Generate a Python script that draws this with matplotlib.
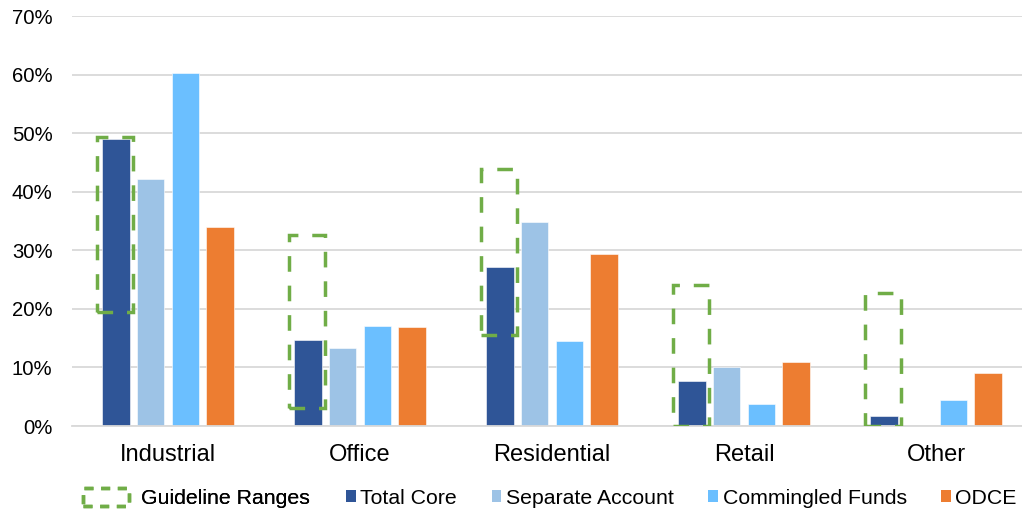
import matplotlib
matplotlib.use("Agg")
import matplotlib.pyplot as plt
from matplotlib.patches import Patch
import numpy as np

plt.rcParams['font.family'] = ['Liberation Sans', 'DejaVu Sans']

# Property-type allocation (%), by portfolio
categories = ["Industrial", "Office", "Residential", "Retail", "Other"]
series_names = ["Total Core", "Separate Account", "Commingled Funds", "ODCE"]
total_core = [49.0, 14.7, 27.1, 7.6, 1.7]
separate_account = [42.1, 13.3, 34.8, 10.0, 0.0]
commingled_funds = [60.3, 17.0, 14.5, 3.7, 4.4]
odce = [33.9, 16.9, 29.3, 10.9, 9.0]

# Guideline ranges for the Total Core portfolio (%)
guideline_low = [19.5, 3.0, 15.5, 0.0, 0.0]
guideline_high = [49.4, 32.6, 43.9, 24.1, 22.7]
y_ticks = [0, 10, 20, 30, 40, 50, 60, 70]

colors = ["#2F5597", "#9DC3E6", "#6BBFFF", "#ED7D31"]
green = "#70AD47"
grid_color = "#D9D9D9"

fig = plt.figure(figsize=(10.22, 5.12), dpi=100)
ax = fig.add_axes([72 / 1022, 86 / 512, 960 / 1022, 410 / 512])

x = np.arange(len(categories))
bar_w = 0.143
pitch = 0.181
all_series = [total_core, separate_account, commingled_funds, odce]
for i, (vals, col, name) in enumerate(zip(all_series, colors, series_names)):
    ax.bar(x + (i - 1.5) * pitch, vals, width=bar_w, color=col,
           edgecolor="white", linewidth=0.4, zorder=2, label=name)

# Dashed guideline boxes around the Total Core bars
dash = (0, (4.5, 4))
heights = [h - l for l, h in zip(guideline_low, guideline_high)]
ax.bar(x - 1.5 * pitch - 0.006, heights, bottom=guideline_low, width=0.188,
       fill=False, edgecolor=green, linewidth=2.5, linestyle=dash, zorder=3)

ax.set_xlim(-0.5, 4.5)
ax.set_ylim(0, 70)
ax.set_yticks(y_ticks)
ax.set_yticklabels([f"{t}%" for t in y_ticks])
ax.set_xticks(x)
ax.set_xticklabels(categories)
ax.tick_params(axis="y", length=0, pad=14, labelsize=14.6, labelcolor="black")
ax.tick_params(axis="x", length=0, pad=13, labelsize=17, labelcolor="black")
ax.yaxis.grid(True, color=grid_color, linewidth=1.3, zorder=0)
ax.set_axisbelow(True)
for s in ["left", "right", "top"]:
    ax.spines[s].set_visible(False)
ax.spines["bottom"].set_color(grid_color)
ax.spines["bottom"].set_linewidth(1.3)

fs = 15.35
guide_handle = Patch(facecolor="none", edgecolor=green, linewidth=2.5,
                     linestyle=(0, (2.6, 2.2)))
leg1 = fig.legend([guide_handle], ["Guideline Ranges"], loc="center left",
                  bbox_to_anchor=(83 / 1022, 14 / 512), frameon=False,
                  fontsize=fs, handlelength=2.15, handleheight=0.9,
                  handletextpad=0.55, borderpad=0, borderaxespad=0)
fig.add_artist(leg1)

series_handles = [Patch(facecolor=c, edgecolor="none") for c in colors]
fig.legend(series_handles, series_names, loc="center left",
           bbox_to_anchor=(346 / 1022, 14 / 512), frameon=False,
           fontsize=fs, ncol=4, handlelength=0.45, handleheight=0.45,
           handletextpad=0.22, columnspacing=1.62, borderpad=0,
           borderaxespad=0)

fig.savefig("out.png", dpi=100)
